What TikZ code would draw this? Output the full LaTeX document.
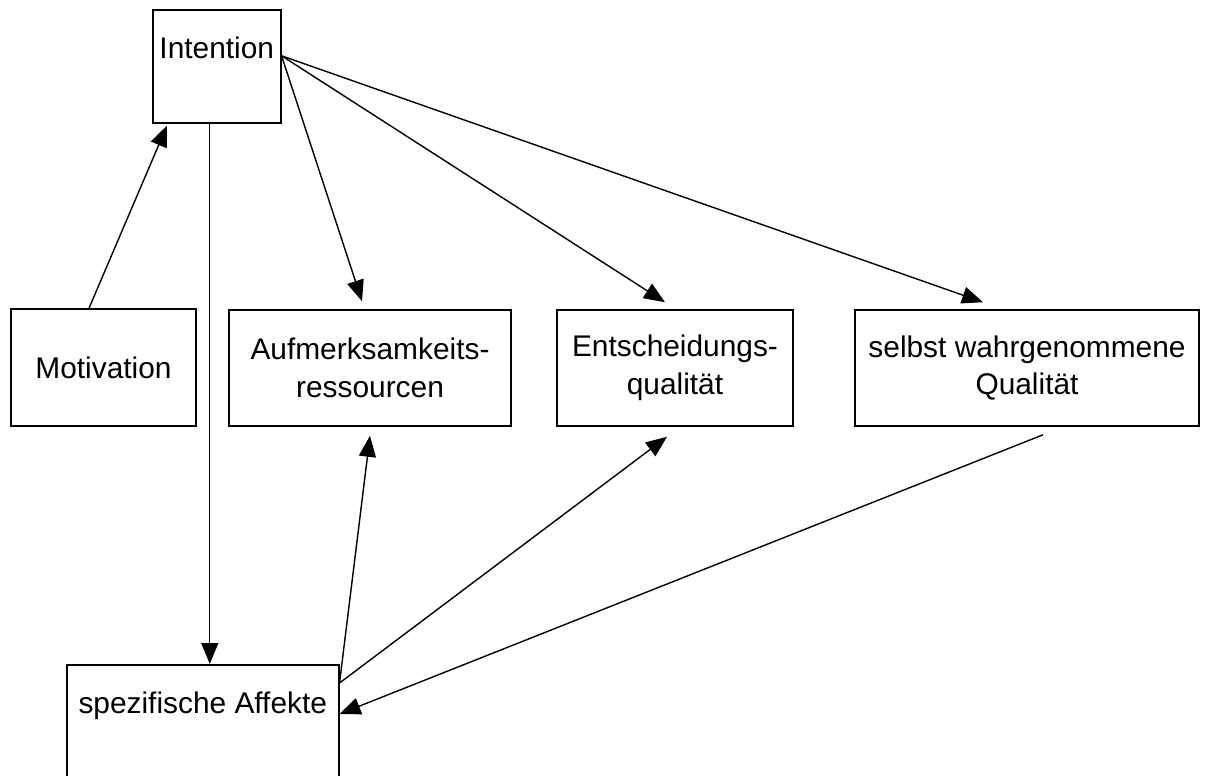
\documentclass[tikz,border=0pt]{standalone}
\usepackage{fontspec}
\setmainfont{Liberation Sans}
\usetikzlibrary{arrows.meta}
\begin{document}
\begin{tikzpicture}[x=0.02cm,y=-0.02cm,
  box/.style={draw=black,line width=0.9pt,inner sep=0pt,align=center,font=\fontsize{17}{21.5}\selectfont},
  arr/.style={draw=black,line width=0.8pt,-{Triangle[length=0.42cm,width=0.34cm]}}]
\useasboundingbox (0,0) rectangle (1213,775);
\node[box,anchor=north west,minimum width=2.56cm,text height=0.98cm,text depth=1.28cm] (intention) at (152,9) {Intention};
\node[box,minimum width=3.7cm,minimum height=2.34cm] (motivation) at (103.5,367.5) {Motivation};
\node[box,minimum width=5.64cm,minimum height=2.32cm] (aufm) at (370,368) {Aufmerksamkeits-\\ressourcen};
\node[box,minimum width=4.72cm,minimum height=2.32cm] (entsch) at (675,368) {Entscheidungs-\\qualität};
\node[box,minimum width=6.88cm,minimum height=2.32cm] (selbst) at (1027,368) {selbst wahrgenommene\\Qualität};
\node[box,anchor=north west,minimum width=5.44cm,text height=0.98cm,text depth=1.8cm] (spez) at (66,664) {spezifische Affekte};
\coordinate (fan) at ([yshift=0.21cm]intention.east);
\coordinate (drop) at ([xshift=-0.14cm]intention.south);
\coordinate (back) at ([yshift=-0.38cm]spez.north east);
\draw [arr] ([xshift=-0.29cm]motivation.north) -- ([xshift=0.3cm,yshift=-0.04cm]intention.south west);
\draw [arr] (drop) -- (drop |- spez.north);
\draw [arr] (fan) -- ([xshift=-0.16cm,yshift=0.16cm]aufm.north);
\draw [arr] (fan) -- ([xshift=-0.2cm,yshift=0.14cm]entsch.north);
\draw [arr] (fan) -- ([xshift=-0.88cm,yshift=0.14cm]selbst.north);
\draw [arr] (back) -- ([yshift=-0.18cm]aufm.south);
\draw [arr] (back) -- ([xshift=-0.16cm,yshift=-0.2cm]entsch.south);
\draw [arr] ([xshift=0.32cm,yshift=-0.16cm]selbst.south) -- ([yshift=-1.0cm]spez.north east);
\end{tikzpicture}
\end{document}
